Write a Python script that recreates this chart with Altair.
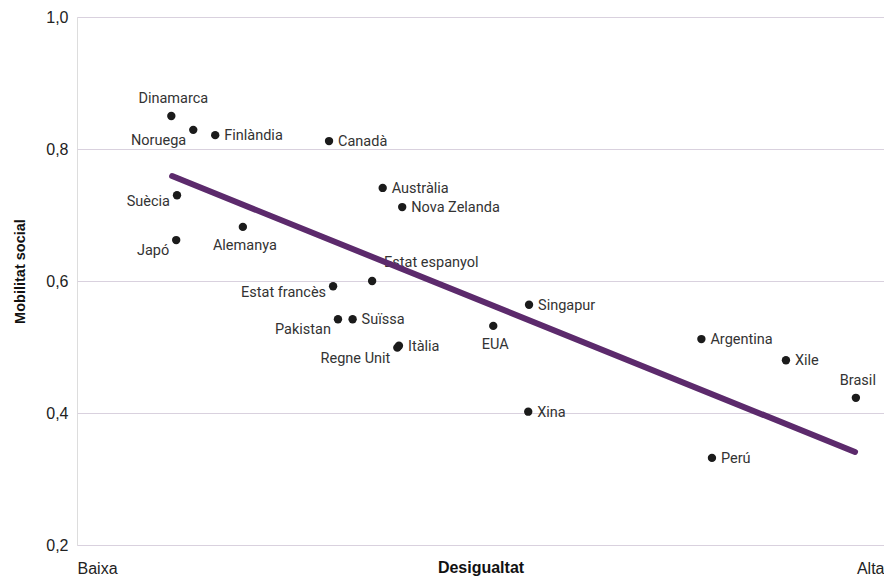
import altair as alt
import pandas as pd

countries = ["Dinamarca", "Noruega", "Finlàndia", "Canadà", "Suècia", "Japó", "Alemanya",
             "Austràlia", "Nova Zelanda", "Estat espanyol", "Estat francès", "Pakistan",
             "Suïssa", "Itàlia", "Regne Unit", "EUA", "Singapur", "Xina", "Argentina",
             "Xile", "Brasil", "Perú"]
inequality = [11.6, 14.3, 17.0, 31.0, 12.3, 12.2, 20.4, 37.6, 40.0, 36.3, 31.5, 32.1,
              33.9, 39.6, 39.4, 51.2, 55.6, 55.5, 76.8, 87.2, 95.8, 78.1]
mobility = [0.850, 0.829, 0.821, 0.812, 0.730, 0.662, 0.682, 0.741, 0.712, 0.600, 0.592,
            0.542, 0.542, 0.502, 0.499, 0.532, 0.564, 0.402, 0.512, 0.480, 0.423, 0.332]
placement = ["above", "lowleft", "right", "right", "left", "lowleft", "below",
             "right", "right", "upright", "left", "lowleft",
             "right", "right", "lowleft", "below", "right", "right", "right",
             "right", "above", "right"]

trend_x = [11.7, 95.7]
trend_y = [0.759, 0.341]

y_ticks = [0.2, 0.4, 0.6, 0.8, 1.0]
x_max = 99.26
x_ticks = [0, x_max]

df = pd.DataFrame({"pais": countries, "x": inequality, "y": mobility, "pos": placement})
trend = pd.DataFrame({"x": trend_x, "y": trend_y})

FONT = "Roboto"
GRID = "#d9d1de"

xscale = alt.Scale(domain=[0, x_max], nice=False, zero=False)
yscale = alt.Scale(domain=[0.2, 1.0], nice=False, zero=False)

xaxis = alt.Axis(values=x_ticks, labelExpr="datum.value == 0 ? 'Baixa' : 'Alta'",
                 labelFlush=True, grid=False, ticks=False, domain=False,
                 labelBaseline="alphabetic", labelPadding=28,
                 labelFontSize=16, labelColor="#222",
                 title="Desigualtat", titleFontSize=16, titleFontWeight="bold",
                 titleColor="#111", titleBaseline="alphabetic", titleY=27)
yaxis = alt.Axis(values=y_ticks, labelExpr="replace(format(datum.value, '.1f'), '.', ',')",
                 grid=True, gridColor=GRID, ticks=False, domain=False,
                 labelPadding=9, labelFontSize=16, labelColor="#222",
                 title="Mobilitat social", titleFontSize=14.5, titleFontWeight="bold",
                 titleColor="#111", titleBaseline="middle", titleX=-57, titleY=254)

base = alt.Chart(df)

points = base.mark_circle(size=70, color="#1b1b1b", opacity=1).encode(
    x=alt.X("x:Q", scale=xscale, axis=xaxis),
    y=alt.Y("y:Q", scale=yscale, axis=yaxis),
)

place_styles = {
    "right": dict(align="left", dx=9, dy=1),
    "above": dict(align="center", dx=2, dy=-17),
    "below": dict(align="center", dx=2, dy=19),
    "left": dict(align="right", dx=-7, dy=7),
    "lowleft": dict(align="right", dx=-7, dy=11),
    "upright": dict(align="left", dx=12, dy=-18),
}

label_layers = []
for name, st in place_styles.items():
    label_layers.append(
        base.transform_filter(alt.datum.pos == name).mark_text(
            font=FONT, fontSize=14.5, color="#333", baseline="middle", **st
        ).encode(
            x=alt.X("x:Q", scale=xscale),
            y=alt.Y("y:Q", scale=yscale),
            text="pais:N",
        )
    )

line = alt.Chart(trend).mark_line(color="#5c2a6c", strokeWidth=6, strokeCap="round").encode(
    x=alt.X("x:Q", scale=xscale),
    y=alt.Y("y:Q", scale=yscale),
)

chart = alt.layer(points, *label_layers, line).properties(
    width=807, height=528,
    autosize=alt.AutoSizeParams(type="none"),
    padding={"left": 69, "top": 9, "right": 0, "bottom": 32},
).configure_view(stroke=GRID, strokeWidth=1).configure_axis(
    labelFont=FONT, titleFont=FONT
).configure(background="white")

chart.save("out.html", embed_options={"renderer": "svg", "actions": False})
